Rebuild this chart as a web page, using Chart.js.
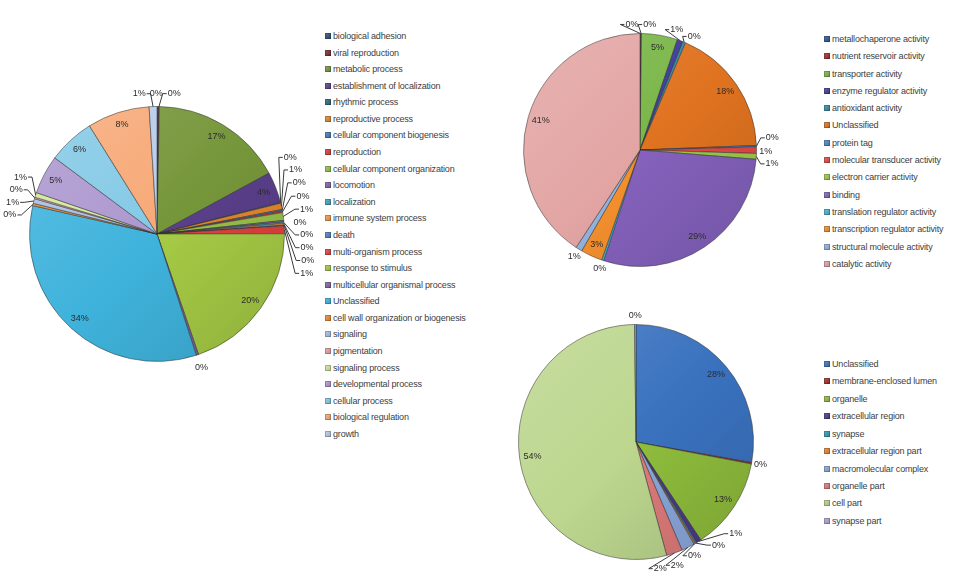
<!DOCTYPE html>
<html><head><meta charset="utf-8">
<script src="https://cdn.jsdelivr.net/npm/chart.js@4.4.1/dist/chart.umd.min.js"></script>
<style>
body{margin:0;background:#fff;}
#wrap{position:relative;width:962px;height:586px;overflow:hidden;background:#fff;}
canvas{position:absolute;}
.lg{position:absolute;font-family:"Liberation Sans",Arial,sans-serif;font-size:9px;letter-spacing:-0.18px;color:#404040;}
.lg .it{display:flex;align-items:center;white-space:nowrap;}
.lg .sw{width:6px;height:6px;margin-right:2px;flex:none;box-shadow:inset 0 0 0 1px rgba(0,0,0,.22);}
</style></head>
<body><div id="wrap">
<canvas id="c1" width="325" height="470" style="left:0;top:0"></canvas>
<canvas id="c2" width="320" height="300" style="left:490px;top:0"></canvas>
<canvas id="c3" width="320" height="286" style="left:490px;top:300px"></canvas>
<div id="lg1" class="lg"></div>
<div id="lg2" class="lg"></div>
<div id="lg3" class="lg"></div>
</div>
<script>
// ---- Biological process ----
const bioLabels = ["biological adhesion","viral reproduction","metabolic process","establishment of localization","rhythmic process","reproductive process","cellular component biogenesis","reproduction","cellular component organization","locomotion","localization","immune system process","death","multi-organism  process","response to stimulus","multicellular organismal process","Unclassified","cell wall organization  or biogenesis","signaling","pigmentation","signaling process","developmental process","cellular process","biological regulation","growth"];
const bioValues = [0.2,0.1,17.0,4.0,0.1,0.8,0.2,0.2,1.0,0.2,0.2,0.2,0.1,1.0,20.0,0.3,34.0,0.3,0.6,0.2,0.6,5.0,6.0,8.0,1.0];
const bioColors = ["#2c4d75","#772c2a","#76963a","#5a3f8a","#276a7c","#e3862e","#4a76b4","#d83b3b","#98c04a","#7f63a6","#3ea3be","#f59a42","#4f81bd","#e0413e","#a6cb45","#8064a2","#3fb3dc","#f08a2e","#a7c0e6","#e3a2a0","#d4e79e","#ad98cf","#84c9e6","#f7a977","#b8cdea"];

// ---- Molecular function ----
const molLabels = ["metallochaperone activity","nutrient reservoir activity","transporter activity","enzyme regulator activity","antioxidant activity","Unclassified","protein tag","molecular transducer activity","electron carrier activity","binding","translation regulator activity","transcription regulator activity","structural molecule activity","catalytic activity"];
const molValues = [0.1,0.1,5.0,0.8,0.4,18.0,0.2,0.9,0.8,28.8,0.3,3.0,0.9,40.8];
const molColors = ["#2c5597","#a32a2a","#7ab648","#3c3c9a","#2f8ca6","#e07320","#4a86c8","#e44848","#9ccd48","#8562bd","#3fb5d6","#f5902e","#93b4e0","#e2a5a3"];

// ---- Cellular component ----
const cellLabels = ["Unclassified","membrane-enclosed lumen","organelle","extracellular region","synapse","extracellular region part","macromolecular complex","organelle part","cell part","synapse part"];
const cellValues = [27.8,0.2,12.7,0.7,0.2,0.2,1.8,2.2,54.0,0.2];
const cellColors = ["#3a72bf","#a32a2a","#8fbd3c","#4a3a8a","#2f98b8","#e5842b","#8aa8dc","#de7b7a","#bcd68e","#b3a2d2"];

function shade(hex, amt) {
  const n = parseInt(hex.slice(1), 16);
  const f = v => Math.round(amt >= 0 ? v + (255 - v) * amt : v * (1 + amt));
  return 'rgb(' + f(n >> 16) + ',' + f((n >> 8) & 255) + ',' + f(n & 255) + ')';
}

const pctLabels = {
  id: 'pctLabels',
  afterDatasetsDraw(chart, args, o) {
    const ctx = chart.ctx;
    const ds = chart.data.datasets[0];
    const total = ds.data.reduce((a, b) => a + b, 0);
    const meta = chart.getDatasetMeta(0);
    ctx.save();
    ctx.font = o.font;
    ctx.fillStyle = o.color;
    ctx.strokeStyle = o.lineColor;
    ctx.lineWidth = 1;
    ctx.textBaseline = 'middle';
    ctx.textAlign = 'center';
    const outs = [];
    meta.data.forEach((arc, i) => {
      const p = arc.getProps(['x','y','startAngle','endAngle','outerRadius'], true);
      const mid = (p.startAngle + p.endAngle) / 2;
      const pct = Math.round(ds.data[i] / total * 100);
      const txt = pct + '%';
      const c = Math.cos(mid), s = Math.sin(mid);
      if (pct >= o.insideMin) {
        const rr = p.outerRadius - o.inside;
        ctx.fillText(txt, p.x + c * rr, p.y + s * rr);
      } else {
        const R = p.outerRadius + o.outside;
        const w = ctx.measureText(txt).width;
        outs.push({txt, w, th: mid, c, s, ax: p.x + c * p.outerRadius, ay: p.y + s * p.outerRadius,
                   x: p.x + c * R, y: p.y + s * R, x0: p.x + c * R, y0: p.y + s * R});
      }
    });
    for (let it = 0; it < 1500; it++) {
      let moved = false;
      for (let a = 0; a < outs.length; a++) for (let b = a + 1; b < outs.length; b++) {
        const A = outs[a], B = outs[b];
        if (Math.abs(A.x - B.x) >= (A.w + B.w) / 2 + o.gapX) continue;
        if (Math.abs(A.y - B.y) >= o.lineH) continue;
        let d = B.th - A.th;
        while (d > Math.PI) d -= 2 * Math.PI;
        while (d <= -Math.PI) d += 2 * Math.PI;
        const first = d >= 0 ? A : B, second = d >= 0 ? B : A;
        const m = first.th + Math.abs(d) / 2;
        const tx = -Math.sin(m), ty = Math.cos(m);
        first.x -= tx * 0.5; first.y -= ty * 0.5;
        second.x += tx * 0.5; second.y += ty * 0.5;
        moved = true;
      }
      if (!moved) break;
    }
    outs.forEach(L => {
      const disp = Math.hypot(L.x - L.x0, L.y - L.y0);
      const sg = L.c >= 0 ? 1 : -1;
      if (disp > o.leaderMin) {
        if (Math.abs(L.c) > 0.5) L.x += sg * o.shiftR;
        const ex = L.x - sg * (L.w / 2 + 1);
        ctx.beginPath();
        ctx.moveTo(L.ax, L.ay);
        ctx.lineTo(ex - sg * 4, L.y);
        ctx.lineTo(ex, L.y);
        ctx.stroke();
      }
      ctx.fillText(L.txt, L.x, L.y);
    });
    ctx.restore();
  }
};

function makePie(id, labels, values, colors, padding, outside, legendId, lgLeft, lgTop, lgStep) {
  const chart = new Chart(document.getElementById(id), {
    type: 'pie',
    data: { labels: labels, datasets: [{
      data: values,
      backgroundColor: (c) => {
        const base = colors[c.dataIndex];
        const area = c.chart.chartArea;
        if (!area || !c.chart.ctx) return base;
        const g = c.chart.ctx.createLinearGradient(area.left, area.top, area.right, area.bottom);
        g.addColorStop(0, shade(base, 0.16));
        g.addColorStop(0.5, base);
        g.addColorStop(1, shade(base, -0.14));
        return g;
      },
      borderColor: 'rgba(45,45,45,0.5)', borderWidth: 1 }] },
    options: {
      responsive: false, animation: false,
      layout: { padding: padding },
      plugins: {
        legend: { display: false }, tooltip: { enabled: false },
        pctLabels: { font: '9px "Liberation Sans",Arial,sans-serif', color: '#2b2b2b', lineColor: '#3a3a3a',
                     inside: 13, insideMin: 3, outside: outside, lineH: 12.5, gapX: 4, leaderMin: 4, shiftR: 7 }
      }
    },
    plugins: [pctLabels]
  });
  const lg = document.getElementById(legendId);
  lg.style.left = lgLeft + 'px';
  lg.style.top = (lgTop - lgStep / 2) + 'px';
  chart.data.labels.forEach((text, i) => {
    const row = document.createElement('div');
    row.className = 'it';
    row.style.height = lgStep + 'px';
    const sw = document.createElement('span');
    sw.className = 'sw';
    sw.style.background = 'linear-gradient(135deg,' + shade(colors[i], 0.2) + ',' + shade(colors[i], -0.15) + ')';
    const tx = document.createElement('span');
    tx.textContent = text;
    row.appendChild(sw); row.appendChild(tx);
    lg.appendChild(row);
  });
  return chart;
}

makePie('c1', bioLabels, bioValues, bioColors, {left: 29, top: 106, right: 40, bottom: 108}, 13, 'lg1', 325, 36, 16.58);
makePie('c2', molLabels, molValues, molColors, {left: 33, top: 33, right: 53, bottom: 33}, 9, 'lg2', 824, 39, 17.3);
makePie('c3', cellLabels, cellValues, cellColors, {left: 28, top: 24, right: 56, bottom: 26}, 9, 'lg3', 824, 364, 17.44);
</script>
</body></html>
